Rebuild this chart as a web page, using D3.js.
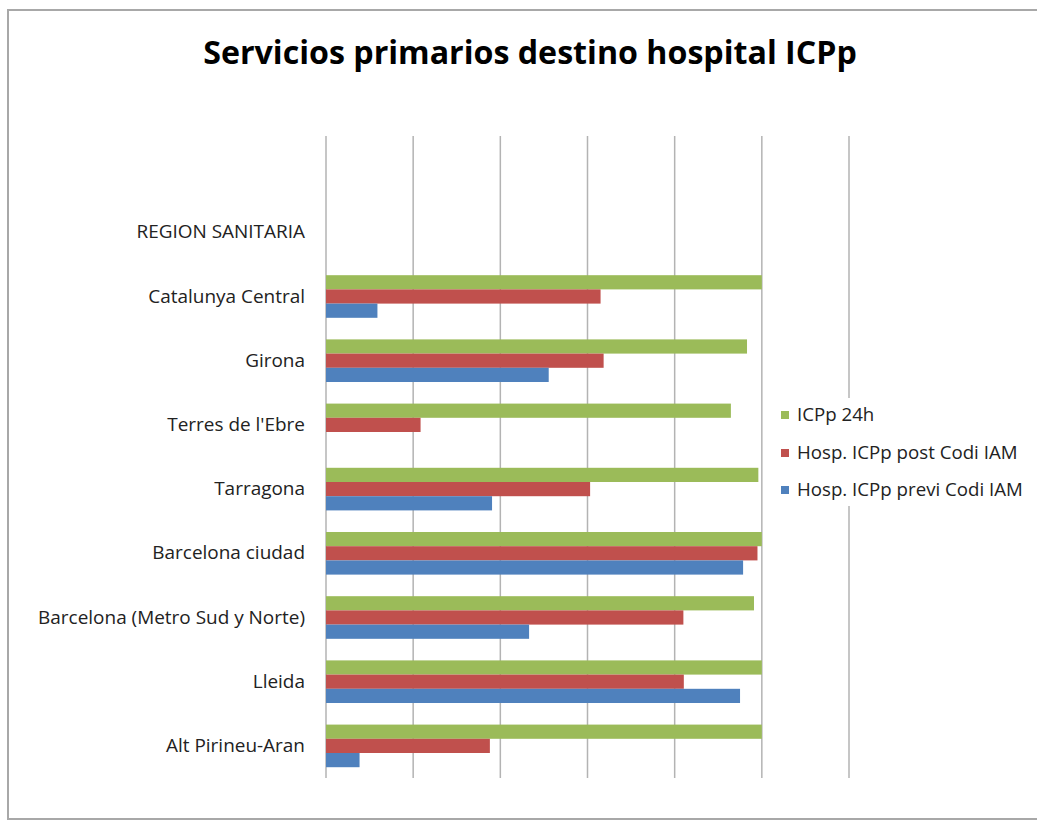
<!DOCTYPE html>
<html>
<head>
<meta charset="utf-8">
<script src="https://cdn.jsdelivr.net/npm/d3@7/dist/d3.min.js"></script>
<style>
  html, body { margin: 0; padding: 0; background: #fff; }
  svg { display: block; }
  text { font-family: "Open Sans", "Liberation Sans", sans-serif; }
</style>
</head>
<body>
<svg id="chart" width="1037" height="822"></svg>
<script>
// Regions, top to bottom (first row is an empty slot, second is the column header)
const categories = ["", "REGION SANITARIA", "Catalunya Central", "Girona", "Terres de l'Ebre",
  "Tarragona", "Barcelona ciudad", "Barcelona (Metro Sud y Norte)", "Lleida", "Alt Pirineu-Aran"];

const seriesNames = ["ICPp 24h", "Hosp. ICPp post Codi IAM", "Hosp. ICPp previ Codi IAM"];
const seriesColors = ["#9BBB59", "#C0504D", "#4F81BD"];

// Percentages per region, same order as categories
const icpp24h = [null, null, 100, 96.6, 92.9, 99.2, 100, 98.2, 100, 100];
const postCodi = [null, null, 63.0, 63.7, 21.7, 60.6, 99.0, 82.0, 82.1, 37.6];
const previCodi = [null, null, 11.8, 51.1, 0, 38.1, 95.7, 46.6, 95.0, 7.7];

const xTicks = [0, 20, 40, 60, 80, 100, 120];

const seriesValues = [icpp24h, postCodi, previCodi];

const svg = d3.select("#chart");

// Outer chart frame
svg.append("rect")
  .attr("x", 8).attr("y", 10)
  .attr("width", 1040).attr("height", 809)
  .attr("fill", "#fff")
  .attr("stroke", "#a8a8a8").attr("stroke-width", 2);

// Horizontally condense a text element (anchored at ax, ay) so it spans the target width
function condense(sel, ax, ay, target) {
  const w = sel.node().getComputedTextLength();
  const sx = target / w;
  sel.attr("x", 0).attr("y", 0)
    .attr("transform", `translate(${ax},${ay}) scale(${sx.toFixed(4)},1)`);
  return sx;
}

// Title
const title = svg.append("text")
  .attr("text-anchor", "middle")
  .attr("font-size", 33)
  .attr("font-weight", "bold")
  .attr("fill", "#000")
  .text("Servicios primarios destino hospital ICPp");
condense(title, 530, 64, 654);

const x = d3.scaleLinear().domain([0, 120]).range([326, 849]);
const y = d3.scaleBand().domain(categories).range([136, 778]).paddingInner(0).paddingOuter(0);
const ySub = d3.scaleBand().domain(seriesNames).range([0, y.bandwidth()])
  .paddingInner(0).paddingOuter(0.76);

// Vertical gridlines
svg.append("g")
  .selectAll("line")
  .data(xTicks)
  .join("line")
  .attr("x1", d => x(d)).attr("x2", d => x(d))
  .attr("y1", 136).attr("y2", 778)
  .attr("stroke", "#b3b3b3").attr("stroke-width", 1.5);

// Bars
const rows = categories.map((c, i) => ({ c, vals: seriesValues.map((s, k) => ({ k, v: s[i] })) }));
const groups = svg.append("g").selectAll("g")
  .data(rows)
  .join("g")
  .attr("transform", d => `translate(0,${y(d.c)})`);

groups.selectAll("rect")
  .data(d => d.vals.filter(e => e.v != null && e.v > 0))
  .join("rect")
  .attr("x", x(0))
  .attr("y", e => ySub(seriesNames[e.k]))
  .attr("width", e => x(e.v) - x(0))
  .attr("height", ySub.bandwidth())
  .attr("fill", e => seriesColors[e.k]);

// Category labels, condensed by the factor that makes the longest one span 267px
const labelSize = 17.5;
const labels = svg.append("g").selectAll("text")
  .data(categories)
  .join("text")
  .attr("text-anchor", "end")
  .attr("font-size", labelSize)
  .attr("fill", "#222")
  .text(d => d);
const longestW = labels.filter(d => d === "Barcelona (Metro Sud y Norte)").node().getComputedTextLength();
const labelSx = 267 / longestW;
labels.attr("x", 0).attr("y", 0)
  .attr("transform", d => `translate(305,${y(d) + y.bandwidth() / 2 + 6}) scale(${labelSx.toFixed(4)},1)`);

// Legend
const legend = svg.append("g");
legend.append("rect")
  .attr("x", 774).attr("y", 398).attr("width", 256).attr("height", 108)
  .attr("fill", "#fff");
const legendY = [415, 453, 490];
const items = legend.selectAll("g")
  .data(seriesNames)
  .join("g")
  .attr("transform", (d, i) => `translate(781,${legendY[i]})`);
items.append("rect")
  .attr("x", 0).attr("y", -4).attr("width", 8).attr("height", 8)
  .attr("fill", (d, i) => seriesColors[i]);
const legTexts = items.append("text")
  .attr("font-size", labelSize)
  .attr("fill", "#222")
  .text(d => d);
const legW = legTexts.filter((d, i) => i === 2).node().getComputedTextLength();
const legSx = 226 / legW;
legTexts.attr("x", 0).attr("y", 0)
  .attr("transform", `translate(16,6) scale(${legSx.toFixed(4)},1)`);
</script>
</body>
</html>
